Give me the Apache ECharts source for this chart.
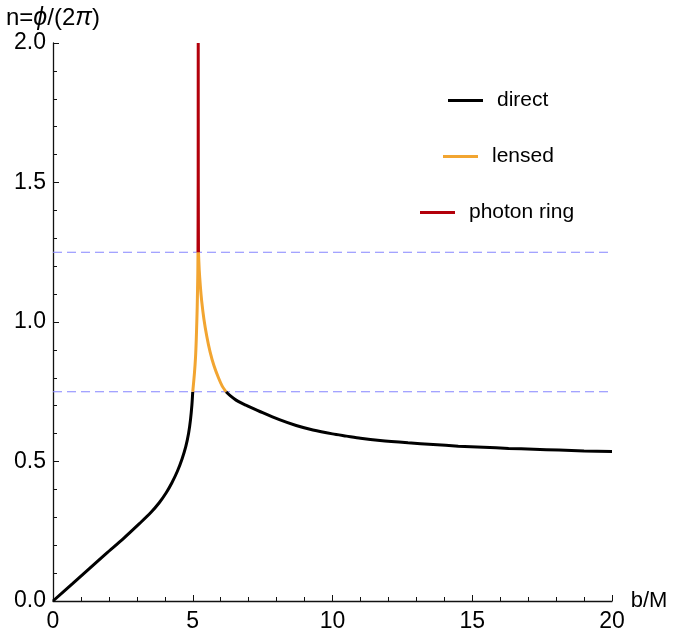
<!DOCTYPE html>
<html>
<head>
<meta charset="utf-8">
<script src="https://cdn.jsdelivr.net/npm/echarts@6/dist/echarts.min.js"></script>
<style>
  html, body { margin: 0; padding: 0; background: #fff; }
  #chart { width: 674px; height: 640px; }
</style>
</head>
<body>
<div id="chart"></div>
<script>
  // values: [b/M, n]
  const directLeft = [
    [0, 0], [0.7, 0.062], [1.3, 0.116], [1.9, 0.170], [2.5, 0.222], [3.1, 0.278],
    [3.5, 0.317], [3.8, 0.352], [4.05, 0.388], [4.25, 0.423], [4.45, 0.465],
    [4.62, 0.510], [4.75, 0.553], [4.85, 0.600], [4.92, 0.650], [4.97, 0.703], [5.0, 0.75]
  ]
  const directRight = [
    [6.19, 0.75], [6.35, 0.735], [6.55, 0.72], [6.75, 0.709], [6.9, 0.702], [7.5, 0.675],
    [8.1, 0.650], [8.7, 0.629], [9.3, 0.613], [10.0, 0.599], [10.5, 0.591], [11.0, 0.583],
    [11.7, 0.575], [12.7, 0.567], [13.6, 0.561], [14.5, 0.555], [15.4, 0.551], [16.3, 0.547],
    [17.2, 0.544], [18.1, 0.541], [19.0, 0.538], [20.0, 0.536]
  ]
  const lensedLeft = [
    [5.0, 0.75], [5.06, 0.816], [5.1, 0.875], [5.125, 0.935], [5.145, 1.0], [5.16, 1.055],
    [5.172, 1.12], [5.181, 1.174], [5.188, 1.25]
  ]
  const lensedRight = [
    [5.205, 1.25], [5.23, 1.19], [5.27, 1.13], [5.32, 1.075], [5.40, 1.01], [5.5, 0.95],
    [5.62, 0.893], [5.76, 0.843], [5.92, 0.80], [6.05, 0.771], [6.19, 0.75]
  ]
  const photonRing = [
    [5.188, 1.25], [5.194, 1.5], [5.196, 2.0], [5.198, 1.5], [5.205, 1.25]
  ]
  const guideLevels = [0.75, 1.25]
  const xTicks = [0, 5, 10, 15, 20]
  const yTicks = [0, 0.5, 1.0, 1.5, 2.0]

  const BLACK = '#000000'
  const ORANGE = '#f2a531'
  const RED = '#b3000b'
  const FONT = 'Liberation Sans, Arial, sans-serif'

  const chart = echarts.init(document.getElementById('chart'))

  const curve = (name, data, color) => ({
    name: name,
    type: 'line',
    data: data,
    showSymbol: false,
    symbol: 'none',
    smooth: 0.25,
    clip: false,
    lineStyle: { color: color, width: 3 },
    itemStyle: { color: color },
    z: 5
  })

  const guides = guideLevels.map(v => ({
    type: 'line',
    data: [[xTicks[0], v], [xTicks[xTicks.length - 1], v]],
    showSymbol: false,
    symbol: 'none',
    silent: true,
    lineStyle: { color: '#8585ff', width: 1, type: [9, 5] },
    z: 2
  }))

  const legendItem = (name, left, top) => ({
    data: [name],
    left: left,
    top: top,
    padding: 0,
    icon: 'rect',
    itemWidth: 35,
    itemHeight: 3,
    selectedMode: false,
    textStyle: { fontFamily: FONT, fontSize: 21, color: '#000', padding: [0, 0, 0, 9] }
  })

  chart.setOption({
    animation: false,
    textStyle: { fontFamily: FONT },
    grid: { left: 53, right: 62, top: 43, bottom: 39, containLabel: false },
    legend: [
      legendItem('direct', 448, 90),
      legendItem('lensed', 443, 146),
      legendItem('photon ring', 420, 202)
    ],
    xAxis: {
      type: 'value',
      min: xTicks[0],
      max: xTicks[xTicks.length - 1],
      interval: 5,
      name: 'b/M',
      nameLocation: 'end',
      nameGap: 14,
      nameTextStyle: { fontSize: 22, color: '#000', fontFamily: FONT },
      axisLine: { lineStyle: { color: '#111', width: 1.3 } },
      axisTick: { inside: true, length: 6, lineStyle: { color: '#111', width: 1 } },
      minorTick: { show: true, splitNumber: 5, length: 4, lineStyle: { color: '#111', width: 1 } },
      axisLabel: { fontSize: 23, color: '#000', margin: 9, fontFamily: FONT },
      splitLine: { show: false }
    },
    yAxis: {
      type: 'value',
      min: yTicks[0],
      max: yTicks[yTicks.length - 1],
      interval: 0.5,
      name: 'n={i|ϕ}/(2{i|π})',
      nameLocation: 'end',
      nameGap: 12,
      nameTextStyle: {
        fontSize: 24, color: '#000', fontFamily: FONT,
        rich: { i: { fontSize: 25, fontStyle: 'italic', fontFamily: FONT, color: '#000' } }
      },
      axisLine: { show: true, lineStyle: { color: '#111', width: 1.3 } },
      axisTick: { show: true, inside: true, length: 6, lineStyle: { color: '#111', width: 1 } },
      minorTick: { show: true, splitNumber: 5, length: 4, lineStyle: { color: '#111', width: 1 } },
      axisLabel: {
        fontSize: 23, color: '#000', margin: 7, fontFamily: FONT,
        formatter: v => v.toFixed(1)
      },
      splitLine: { show: false }
    },
    series: [
      ...guides,
      curve('direct', directLeft, BLACK),
      curve('direct', directRight, BLACK),
      curve('lensed', lensedLeft, ORANGE),
      curve('lensed', lensedRight, ORANGE),
      curve('photon ring', photonRing, RED)
    ]
  })
</script>
</body>
</html>
